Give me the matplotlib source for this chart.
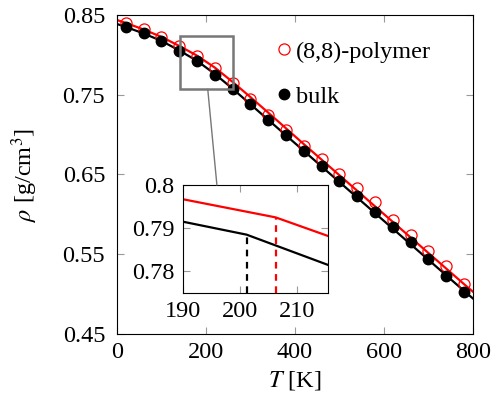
import numpy as np
import matplotlib.pyplot as plt
from matplotlib.patches import Rectangle, ConnectionPatch

plt.rcParams['font.family'] = ['Liberation Serif', 'DejaVu Serif']
plt.rcParams['mathtext.fontset'] = 'stix'
plt.rcParams['font.size'] = 17.5

# data
T = [20, 60, 100, 140, 180, 220, 260, 300, 340, 380, 420, 460, 500, 540, 580, 620, 660, 700, 740, 780]
rho_poly = [0.8403, 0.8321, 0.8228, 0.8115, 0.7990, 0.7832, 0.7644, 0.7447, 0.7246, 0.7058,
            0.6861, 0.6690, 0.6503, 0.6327, 0.6159, 0.5929, 0.5742, 0.5545, 0.5353, 0.5127]
rho_bulk = [0.8353, 0.8270, 0.8178, 0.8049, 0.7923, 0.7748, 0.7568, 0.7378, 0.7183, 0.6995,
            0.6799, 0.6610, 0.6419, 0.6235, 0.6034, 0.5846, 0.5650, 0.5445, 0.5228, 0.5028]

# fitted curves (main)
T_fit = [0, 20, 60, 100, 140, 180, 220, 260, 300, 340, 380, 420, 460, 500, 540, 580, 620, 660, 700, 740, 780, 800]
fit_poly = [0.8437, 0.8400, 0.8318, 0.8225, 0.8112, 0.7990, 0.7840, 0.7660, 0.7470, 0.7275, 0.7078,
            0.6880, 0.6685, 0.6490, 0.6295, 0.6100, 0.5905, 0.5710, 0.5515, 0.5320, 0.5125, 0.5030]
fit_bulk = [0.8387, 0.8350, 0.8268, 0.8175, 0.8055, 0.7925, 0.7760, 0.7575, 0.7380, 0.7185, 0.6990,
            0.6795, 0.6600, 0.6405, 0.6210, 0.6015, 0.5820, 0.5625, 0.5430, 0.5235, 0.5040, 0.4945]

# inset (zoom on the kink)
T_in_poly = [190, 206.3, 215.5]
in_poly = [0.7967, 0.7925, 0.7882]
T_in_bulk = [190, 201.2, 215.5]
in_bulk = [0.7915, 0.7885, 0.7815]
Tc_poly = 206.3
Tc_bulk = 201.2

fig = plt.figure(figsize=(4.94, 4.04), dpi=100)
ax = fig.add_axes([0.2368, 0.1733, 0.7206, 0.7896])

ax.plot(T_fit, fit_poly, color='red', lw=1.6, zorder=2)
ax.plot(T_fit, fit_bulk, color='black', lw=1.6, zorder=2)
ax.plot(T, rho_poly, 'o', mfc='none', mec='red', ms=8, mew=0.9, label='(8,8)-polymer', zorder=3)
ax.plot(T, rho_bulk, 'o', color='black', ms=7.5, label='bulk', zorder=3)

ax.set_xlim(0, 800)
ax.set_ylim(0.45, 0.85)
ax.set_xticks([0, 200, 400, 600, 800])
ax.set_yticks([0.45, 0.55, 0.65, 0.75, 0.85])
ax.set_yticklabels(['0.45', '0.55', '0.65', '0.75', '0.85'])
ax.tick_params(direction='in', top=True, right=True, length=5, color='#999999', pad=6)
ax.tick_params(axis='y', pad=8.5)
ax.set_xlabel(r'$T$ [K]', labelpad=4)
ax.set_ylabel(r'$\rho$ [g/cm$^3$]')
ax.yaxis.set_label_coords(-0.215, 0.5)

ax.legend(loc='upper left', bbox_to_anchor=(0.42, 0.95), frameon=False,
          handlelength=0.6, handletextpad=0.2, labelspacing=0.95, borderaxespad=0)

# zoom box
ax.add_patch(Rectangle((142, 0.757), 118, 0.067, fill=False, ec='#777777', lw=1.8, zorder=4))

axin = fig.add_axes([0.3704, 0.2748, 0.2935, 0.2673])
axin.plot(T_in_poly, in_poly, color='red', lw=1.6)
axin.plot(T_in_bulk, in_bulk, color='black', lw=1.6)
axin.plot([Tc_poly, Tc_poly], [0.775, np.interp(Tc_poly, T_in_poly, in_poly)], '--', color='red', lw=1.6, dashes=(3, 2.5))
axin.plot([Tc_bulk, Tc_bulk], [0.775, np.interp(Tc_bulk, T_in_bulk, in_bulk)], '--', color='black', lw=1.6, dashes=(3, 2.5))
axin.set_xlim(190, 215.5)
axin.set_ylim(0.775, 0.8)
axin.set_xticks([190, 200, 210])
axin.set_yticks([0.78, 0.79, 0.8])
axin.set_yticklabels(['0.78', '0.79', '0.8'])
axin.tick_params(direction='in', top=True, right=True, length=5, color='#999999', pad=6)

con = ConnectionPatch(xyA=(204, 0.757), coordsA=ax.transData,
                      xyB=(0.234, 1.0), coordsB=axin.transAxes,
                      color='#777777', lw=1.0)
fig.add_artist(con)

fig.savefig('out.png', dpi=100)
